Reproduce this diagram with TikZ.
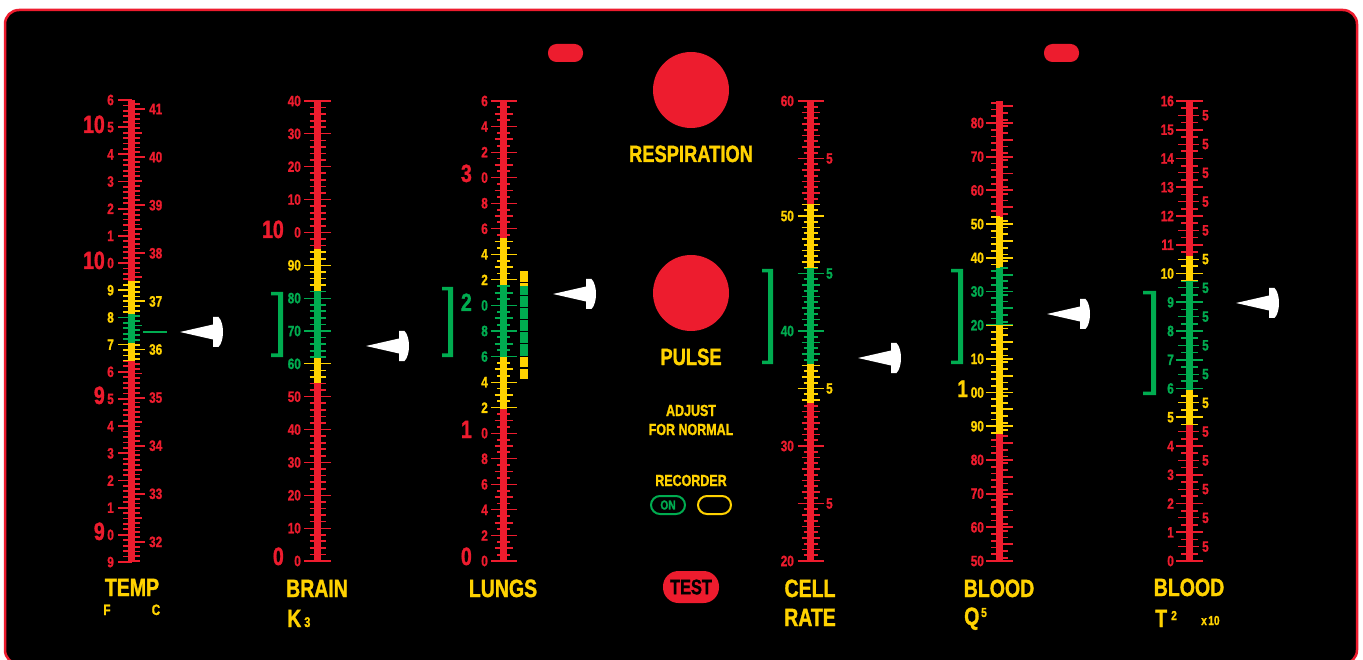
\documentclass[tikz,border=0pt]{standalone}
\usepackage{fontspec}
\setmainfont{Liberation Sans}[FakeStretch=0.78, FakeBold=1.3, UprightFont=* Bold, BoldFont=* Bold]
\definecolor{cred}{RGB}{237,28,46}
\definecolor{cyel}{RGB}{255,210,0}
\definecolor{cgrn}{RGB}{0,172,80}
\newcommand\fs[1]{\fontsize{#1}{#1}\selectfont\bfseries}
\newcommand\gzones[3]{%
  \foreach \ya/\yb/\cc in {#2}{%
    \begin{scope}
      \clip (#1-30,\ya) rectangle (#1+30,\yb);
      \fill[\cc] (#1-3.5,\ya) rectangle (#1+3.5,\yb);
      \begin{scope}[color=\cc, line width=1.8pt]
        #3
      \end{scope}
    \end{scope}
  }%
}
\newcommand\gbrk[4]{\fill[cgrn] (#1,#3) -- (#2,#3) -- (#2,#4) -- (#1,#4) -- (#1,#4-3.5) -- (#2-5,#4-3.5) -- (#2-5,#3+3.5) -- (#1,#3+3.5) -- cycle;}
\newcommand\gptr[2]{\begin{scope}[shift={(#1,#2)}]\fill[white] (0,0) -- (33,-7.5) -- (33,-15) -- (38.5,-15) .. controls (44.5,-9) and (44.5,9) .. (38.5,15) -- (33,15) -- (33,7.5) -- cycle;\end{scope}}
\begin{document}
\begin{tikzpicture}[x=1pt,y=-1pt,
  lab/.style={inner sep=0pt,font=\fs{15}},
  big/.style={inner sep=0pt,font=\fs{25}},
  mid/.style={inner sep=0pt,font=\fs{16}}]
\useasboundingbox (0,0) rectangle (1363,660);
\fill[white] (0,0) rectangle (1363,660);
\draw[cred, line width=2.5pt, fill=black, rounded corners=14pt] (5,10) rectangle (1357,664);

% top pills
\fill[cred, rounded corners=8.5pt] (548,44) rectangle (583,62);
\fill[cred, rounded corners=8.5pt] (1044,44) rectangle (1079,62);

% ================= TEMP
\gzones{131.5}{100/281/cred,281/314/cyel,314/343/cgrn,343/361/cyel,361/562/cred}{
  \foreach \ii in {0,...,85}{\pgfmathsetmacro\yy{100+\ii*5.4353}\pgfmathtruncatemacro\mm{mod(\ii,5)}
    \ifnum\mm=0 \draw (118,\yy)--(131.5,\yy);\else\draw (123,\yy)--(131.5,\yy);\fi}
  \foreach \ii in {-1,...,94}{\pgfmathsetmacro\yy{109+\ii*4.81}\pgfmathtruncatemacro\mm{mod(\ii+100,10)}\pgfmathtruncatemacro\hh{mod(\ii+100,5)}
    \ifnum\mm=0 \draw (131.5,\yy)--(145,\yy);\else\ifnum\hh=0 \draw (131.5,\yy)--(142,\yy);\else\draw (131.5,\yy)--(139.5,\yy);\fi\fi}
}
\draw[cgrn, line width=2pt] (143,332) -- (167,332);
\foreach \kk/\tx/\cl in {0/6/cred,1/5/cred,2/4/cred,3/3/cred,4/2/cred,5/1/cred,6/0/cred,7/9/cyel,8/8/cyel,9/7/cyel,10/6/cred,11/5/cred,12/4/cred,13/3/cred,14/2/cred,15/1/cred,16/0/cred,17/9/cred}
  {\node[lab,text=\cl,anchor=east] (tf\kk) at (114,{100+\kk*27.18}) {\tx};}
\foreach \cv/\cl in {41/cred,40/cred,39/cred,38/cred,37/cyel,36/cyel,35/cred,34/cred,33/cred,32/cred}
  {\node[lab,text=\cl,anchor=west] (tc\cv) at (149,{109+(41-\cv)*48.1}) {\cv};}
\node[big,text=cred,anchor=base east] (tb1) at (105,133) {10};
\node[big,text=cred,anchor=base east] (tb2) at (105,269) {10};
\node[big,text=cred,anchor=base east] (tb3) at (105,404) {9};
\node[big,text=cred,anchor=base east] (tb4) at (105,540) {9};
\gptr{180}{332}

% ================= BRAIN
\gzones{317.5}{101/249/cred,249/291/cyel,291/358/cgrn,358/383/cyel,383/561/cred}{
  \foreach \vv in {0,2,...,140}{\pgfmathsetmacro\yy{101+(140-\vv)*3.2857}\pgfmathtruncatemacro\mm{mod(\vv,10)}
    \ifnum\mm=0 \draw[line width=1.2pt] (304,\yy)--(331,\yy);\else\draw (309.5,\yy)--(325.5,\yy);\fi}
}
\foreach \vv/\tx/\cl in {140/40/cred,130/30/cred,120/20/cred,110/10/cred,100/0/cred,90/90/cyel,80/80/cgrn,70/70/cgrn,60/60/cgrn,50/50/cred,40/40/cred,30/30/cred,20/20/cred,10/10/cred,0/0/cred}
  {\node[lab,text=\cl,anchor=east] (bl\vv) at (301,{101+(140-\vv)*3.2857}) {\tx};}
\node[big,text=cred,anchor=base east] (bb1) at (284,238) {10};
\node[big,text=cred,anchor=base east] (bb2) at (284,565) {0};
\gbrk{271}{283}{292}{357}
\gptr{366}{346}

% ================= LUNGS
\gzones{503}{101/238/cred,238/286/cyel,286/357/cgrn,357/409/cyel,409/561/cred}{
  \foreach \ii in {0,...,72}{\pgfmathsetmacro\yy{101+(72-\ii)*6.3889}\pgfmathtruncatemacro\mm{mod(\ii,4)}\pgfmathtruncatemacro\hh{mod(\ii,2)}
    \ifnum\mm=0 \draw[line width=1.2pt] (491,\yy)--(517,\yy);\else\ifnum\hh=0 \draw (494.5,\yy)--(512.5,\yy);\else\draw (497,\yy)--(510,\yy);\fi\fi}
}
\foreach \vv/\tx/\cl in {36/6/cred,34/4/cred,32/2/cred,30/0/cred,28/8/cred,26/6/cred,24/4/cyel,22/2/cyel,20/0/cgrn,18/8/cgrn,16/6/cgrn,14/4/cyel,12/2/cyel,10/0/cred,8/8/cred,6/6/cred,4/4/cred,2/2/cred,0/0/cred}
  {\node[lab,text=\cl,anchor=east] (ll\vv) at (488,{101+(36-\vv)*12.778}) {\tx};}
\node[big,text=cred,anchor=base east] (lb3) at (472,182) {3};
\node[big,text=cgrn,anchor=base east] (lb2) at (472,311) {2};
\node[big,text=cred,anchor=base east] (lb1) at (472,438) {1};
\node[big,text=cred,anchor=base east] (lb0) at (472,565) {0};
\fill[cyel] (520,271) rectangle (528,282);
\fill[cyel] (520,283.5) rectangle (528,286);
\fill[cgrn] (520,286) rectangle (528,295);
\foreach \aa in {296.5,308.5,320.5,332.5,344.5} {\fill[cgrn] (520,\aa) rectangle (528,\aa+11);}
\fill[cyel] (520,356.5) rectangle (528,367);
\fill[cyel] (520,368.5) rectangle (528,379);
\gbrk{442}{453}{287}{357}
\gptr{553}{294}

% ================= CENTRE
\fill[cred] (691,90) circle (38);
\node[inner sep=0pt,font=\fs{23.5},text=cyel,anchor=base] (resp) at (691,162) {RESPIRATION};
\fill[cred] (691,293) circle (38);
\node[inner sep=0pt,font=\fs{23.5},text=cyel,anchor=base] (pulse) at (691,365) {PULSE};
\node[mid,text=cyel,anchor=base] (adj) at (691,416) {ADJUST};
\node[mid,text=cyel,anchor=base] (norm) at (691,435) {FOR NORMAL};
\node[mid,text=cyel,anchor=base] (rec) at (691,486) {RECORDER};
\draw[cgrn, line width=2pt, rounded corners=9pt] (651,496) rectangle (685,514);
\node[inner sep=0pt,font=\fs{13},text=cgrn] (on) at (668,505) {ON};
\draw[cyel, line width=2pt, rounded corners=9pt] (698,496) rectangle (731,514);
\fill[cred, rounded corners=15.5pt] (663,571) rectangle (719,603);
\node[inner sep=0pt,font=\fs{21},text=black] (test) at (691,587) {TEST};

% ================= CELL RATE
\gzones{810.5}{101/205/cred,205/269/cyel,269/364/cgrn,364/403/cyel,403/561/cred}{
  \foreach \ii in {40,...,120}{\pgfmathsetmacro\yy{101+(120-\ii)*5.75}\pgfmathtruncatemacro\mm{mod(\ii,10)}\pgfmathtruncatemacro\hh{mod(\ii,2)}
    \ifnum\mm=0 \draw[line width=1.5pt] (797.5,\yy)--(823.5,\yy);\else\ifnum\hh=0 \draw (801.5,\yy)--(819.5,\yy);\else\draw (803.5,\yy)--(817.5,\yy);\fi\fi}
}
\foreach \vv/\cl in {60/cred,50/cyel,40/cgrn,30/cred,20/cred}
  {\node[lab,text=\cl,anchor=east] (cl\vv) at (794,{101+(60-\vv)*11.5}) {\vv};}
\foreach \vv/\cl in {55/cred,45/cgrn,35/cyel,25/cred}
  {\node[lab,text=\cl,anchor=west] (cr\vv) at (826,{101+(60-\vv)*11.5}) {5};}
\gbrk{762}{773}{269}{364}
\gptr{858}{358}

% ================= BLOOD Q
\gzones{999.5}{101/217/cred,217/268/cyel,268/326/cgrn,326/434/cyel,434/561/cred}{
  \foreach \vv in {50,...,186}{\pgfmathsetmacro\yy{561-(\vv-50)*3.3692}\pgfmathtruncatemacro\mm{mod(\vv,10)}\pgfmathtruncatemacro\hh{mod(\vv,5)}\pgfmathtruncatemacro\ee{mod(\vv,2)}
    \ifnum\ee=0
      \ifnum\mm=0 \draw (986,\yy)--(1013,\yy);\else\draw (991,\yy)--(999.5,\yy);\fi
    \else
      \ifnum\hh=0 \draw (999.5,\yy)--(1013,\yy);\else\draw (999.5,\yy)--(1008,\yy);\fi
    \fi}
}
\foreach \vv/\tx/\cl in {180/80/cred,170/70/cred,160/60/cred,150/50/cyel,140/40/cyel,130/30/cgrn,120/20/cgrn,110/10/cyel,100/00/cyel,90/90/cyel,80/80/cred,70/70/cred,60/60/cred,50/50/cred}
  {\node[lab,text=\cl,anchor=east] (ql\vv) at (984,{561-(\vv-50)*3.3692}) {\tx};}
\node[inner sep=0pt,font=\fs{24},text=cyel,anchor=base east] (qb1) at (968,397) {1};
\gbrk{951}{963}{269}{364}
\gptr{1047}{314}

% ================= BLOOD T
\gzones{1189.5}{101/256/cred,256/282/cyel,282/390/cgrn,390/425/cyel,425/561/cred}{
  \foreach \ii in {0,...,64}{\pgfmathsetmacro\yy{561-\ii*7.1875}\pgfmathtruncatemacro\mm{mod(\ii,4)}\pgfmathtruncatemacro\hh{mod(\ii,2)}
    \ifnum\mm=0 \draw (1176,\yy)--(1203,\yy);\else\ifnum\hh=0 \draw[line width=1.2pt] (1178,\yy)--(1199,\yy);\else\draw (1181,\yy)--(1198,\yy);\fi\fi}
}
\foreach \vv/\cl in {16/cred,15/cred,14/cred,13/cred,12/cred,11/cred,10/cyel,9/cgrn,8/cgrn,7/cgrn,6/cgrn,5/cyel,4/cred,3/cred,2/cred,1/cred,0/cred}
  {\node[lab,text=\cl,anchor=east] (zl\vv) at (1174,{561-\vv*28.75}) {\vv};}
\foreach \vv/\cl in {15/cred,14/cred,13/cred,12/cred,11/cred,10/cyel,9/cgrn,8/cgrn,7/cgrn,6/cgrn,5/cyel,4/cred,3/cred,2/cred,1/cred,0/cred}
  {\node[lab,text=\cl,anchor=west] (zr\vv) at (1202,{561-(\vv+0.5)*28.75}) {5};}
\gbrk{1143}{1156}{291}{395}
\gptr{1236}{303}

% ================= bottom names
\node[big,text=cyel,anchor=base] (temp) at (132,596) {TEMP};
\node[inner sep=0pt,font=\fs{15},text=cyel,anchor=base] (ff) at (107,615) {F};
\node[inner sep=0pt,font=\fs{15},text=cyel,anchor=base] (fc) at (156,615) {C};
\node[big,text=cyel,anchor=base] (brain) at (317,597) {BRAIN};
\node[big,text=cyel,anchor=base west] (k3) at (287,627) {K\hspace{3pt}{\fs{14}3}};
\node[big,text=cyel,anchor=base] (lungs) at (503,597) {LUNGS};
\node[big,text=cyel,anchor=base] (cell) at (810,597) {CELL};
\node[big,text=cyel,anchor=base] (rate) at (810,626) {RATE};
\node[big,text=cyel,anchor=base] (bloodq) at (999,597) {BLOOD};
\node[big,text=cyel,anchor=base west] (qq) at (964,625) {Q};
\node[inner sep=0pt,font=\fs{13},text=cyel,anchor=base west] (q5) at (981,617) {5};
\node[big,text=cyel,anchor=base] (bloodt) at (1189,596) {BLOOD};
\node[big,text=cyel,anchor=base west] (tt) at (1155,627) {T};
\node[inner sep=0pt,font=\fs{13},text=cyel,anchor=base west] (t2) at (1171,620) {2};
\node[inner sep=0pt,font=\fs{13},text=cyel,anchor=base west] (x10) at (1201,625) {x\kern1.5pt 10};
\end{tikzpicture}
\end{document}
